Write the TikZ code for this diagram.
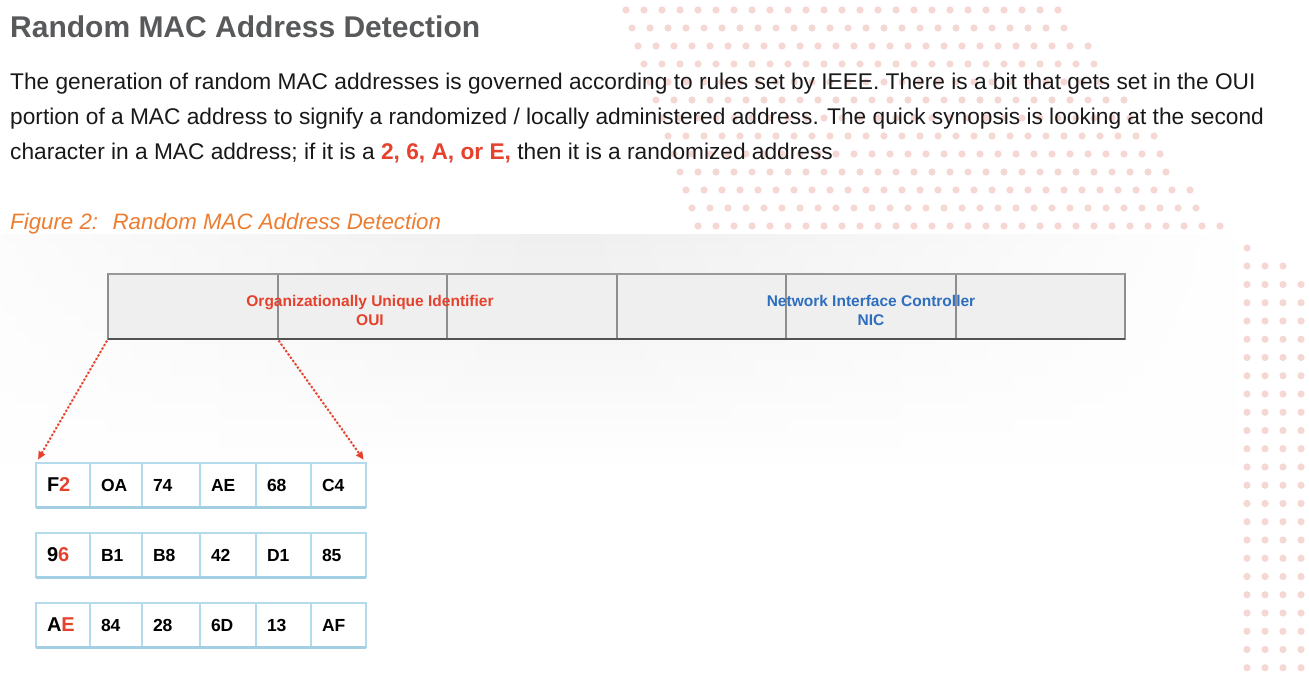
\documentclass[tikz,border=0pt]{standalone}
\usepackage{fontspec}
\setmainfont{Liberation Sans}
\usetikzlibrary{positioning, arrows.meta, fadings}

\definecolor{titlegray}{HTML}{58595B}
\definecolor{accentred}{HTML}{E5412D}
\definecolor{captionorange}{HTML}{ED7D31}
\definecolor{nicblue}{HTML}{2E6EBE}
\definecolor{dotpink}{HTML}{F5D8D3}
\definecolor{glowgray}{HTML}{EFEFEF}
\definecolor{barfill}{HTML}{EFEFEF}
\definecolor{barline}{HTML}{8E8E8E}
\definecolor{cellline}{HTML}{B4DBEC}
\definecolor{cellbase}{HTML}{A3CFE5}

\tikzfading[name=glowfade, left color=transparent!100, right color=transparent!100, middle color=transparent!0]

\begin{document}
\begin{tikzpicture}[
    % GLOBAL CFG: one unit is one pixel, y grows downwards
    x=1pt, y=-1pt,
    >={Triangle[length=8pt, width=7pt]},
    % Styles
    heading/.style={% page title
        anchor=base west,
        inner sep=0pt,
        font=\fontsize{30}{36}\selectfont\bfseries,
        text=titlegray,
        },
    bodyline/.style={% one line of the paragraph
        anchor=base west,
        inner sep=0pt,
        font=\fontsize{22.7}{26}\selectfont,
        text=black!90,
        },
    caption/.style={% figure caption
        anchor=base west,
        inner sep=0pt,
        font=\fontsize{22.3}{26}\selectfont\itshape,
        text=captionorange,
        },
    barseg/.style={% one byte of the address bar
        rectangle,
        anchor=north west,
        minimum width=169.5pt,
        minimum height=65pt,
        inner sep=0pt,
        outer sep=0pt,
        fill=barfill,
        draw=barline,
        line width=2pt,
        },
    fieldlabel/.style={% OUI / NIC text
        align=center,
        font=\fontsize{15.5}{19}\selectfont\bfseries,
        },
    bytecell/.style={% one byte of an example address
        rectangle,
        anchor=north west,
        draw=cellline,
        line width=1.3pt,
        minimum height=44pt,
        inner xsep=11pt,
        outer sep=0pt,
        text width=#1,
        align=left,
        font=\fontsize{17.5}{20}\selectfont\bfseries,
        },
    firstbyte/.style={% the byte that holds the flag
        font=\fontsize{20}{24}\selectfont\bfseries,
        },
    cellfoot/.style={% thick line under each address
        draw=cellbase,
        line width=3pt,
        },
    pointer/.style={% red dotted arrows
        draw=accentred,
        fill=accentred,
        line width=2pt,
        dash pattern=on 2pt off 2pt,
        shorten <=2pt,
        shorten >=4pt,
        }
    ]

% Page and background decoration
\useasboundingbox [fill=white] (0,0) rectangle (1309,676);
\foreach \r in {0,...,12}{
    \pgfmathsetmacro\xl{626+6*\r}
    \pgfmathtruncatemacro\n{(1064+13*\r-\xl)/18}
    \foreach \k in {0,...,\n}
        \fill [dotpink] (\xl+18*\k, 10+18*\r) circle (3.6);
}
\fill [dotpink] (1247,248) circle (3.6);
\foreach \i in {0,...,2} \fill [dotpink] (1247+18*\i,266) circle (3.6);
\foreach \j in {2,...,23}
    \foreach \i in {0,...,3}
        \fill [dotpink] (1247+18*\i, 248+18.25*\j) circle (3.6);
\shade [top color=glowgray, bottom color=white, path fading=glowfade] (-120,235) rectangle (1240,470);

% Texts
\node [heading] (title) at (10,38) {Random MAC Address Detection};
\node [bodyline] (line1) at (10,90) {The generation of random MAC addresses is governed according to rules set by IEEE. There is a bit that gets set in the OUI};
\node [bodyline] (line2) at (10,125) {portion of a MAC address to signify a randomized / locally administered address. The quick synopsis is looking at the second};
\node [bodyline] (line3) at (10,160) {character in a MAC address; if it is a \textbf{\color{accentred}2, 6, A, or E,} then it is a randomized address};
\node [caption] (fig) at (10,230) {Figure 2:~ Random MAC Address Detection};

% The address bar
\node [barseg] (oui1) at (108,274) {};
\node [barseg, right=0pt of oui1] (oui2) {};
\node [barseg, right=0pt of oui2] (oui3) {};
\node [barseg, right=0pt of oui3] (nic1) {};
\node [barseg, right=0pt of nic1] (nic2) {};
\node [barseg, right=0pt of nic2] (nic3) {};
\draw [draw=black!40, line width=2.5pt] (oui1.north west) -- (nic3.north east);
\draw [draw=black!68, line width=2.5pt] (oui1.south west) -- (nic3.south east);
\node [fieldlabel, text=accentred] (ouilabel) at (370,310) {Organizationally Unique Identifier\\OUI};
\node [fieldlabel, text=nicblue] (niclabel) at (871,310) {Network Interface Controller\\NIC};

% Example addresses, named r<row>c<column>
\node [bytecell=32pt, firstbyte] (r1c1) at (36,463) {F\textcolor{accentred}{2}};
\node [bytecell=30pt, right=0pt of r1c1] (r1c2) {OA};
\node [bytecell=36pt, right=0pt of r1c2] (r1c3) {74};
\node [bytecell=34pt, right=0pt of r1c3] (r1c4) {AE};
\node [bytecell=33pt, right=0pt of r1c4] (r1c5) {68};
\node [bytecell=33pt, right=0pt of r1c5] (r1c6) {C4};

\node [bytecell=32pt, firstbyte, below=26pt of r1c1] (r2c1) {9\textcolor{accentred}{6}};
\node [bytecell=30pt, right=0pt of r2c1] (r2c2) {B1};
\node [bytecell=36pt, right=0pt of r2c2] (r2c3) {B8};
\node [bytecell=34pt, right=0pt of r2c3] (r2c4) {42};
\node [bytecell=33pt, right=0pt of r2c4] (r2c5) {D1};
\node [bytecell=33pt, right=0pt of r2c5] (r2c6) {85};

\node [bytecell=32pt, firstbyte, below=26pt of r2c1] (r3c1) {A\textcolor{accentred}{E}};
\node [bytecell=30pt, right=0pt of r3c1] (r3c2) {84};
\node [bytecell=36pt, right=0pt of r3c2] (r3c3) {28};
\node [bytecell=34pt, right=0pt of r3c3] (r3c4) {6D};
\node [bytecell=33pt, right=0pt of r3c4] (r3c5) {13};
\node [bytecell=33pt, right=0pt of r3c5] (r3c6) {AF};

\draw [cellfoot] (r1c1.south west) -- (r1c6.south east);
\draw [cellfoot] (r2c1.south west) -- (r2c6.south east);
\draw [cellfoot] (r3c1.south west) -- (r3c6.south east);

% Arrows from the OUI down to the example
\draw [->, pointer] (oui1.south west) -- (r1c1.north west);
\draw [->, pointer] (oui2.south west) -- (r1c6.north east);

\end{tikzpicture}
\end{document}
